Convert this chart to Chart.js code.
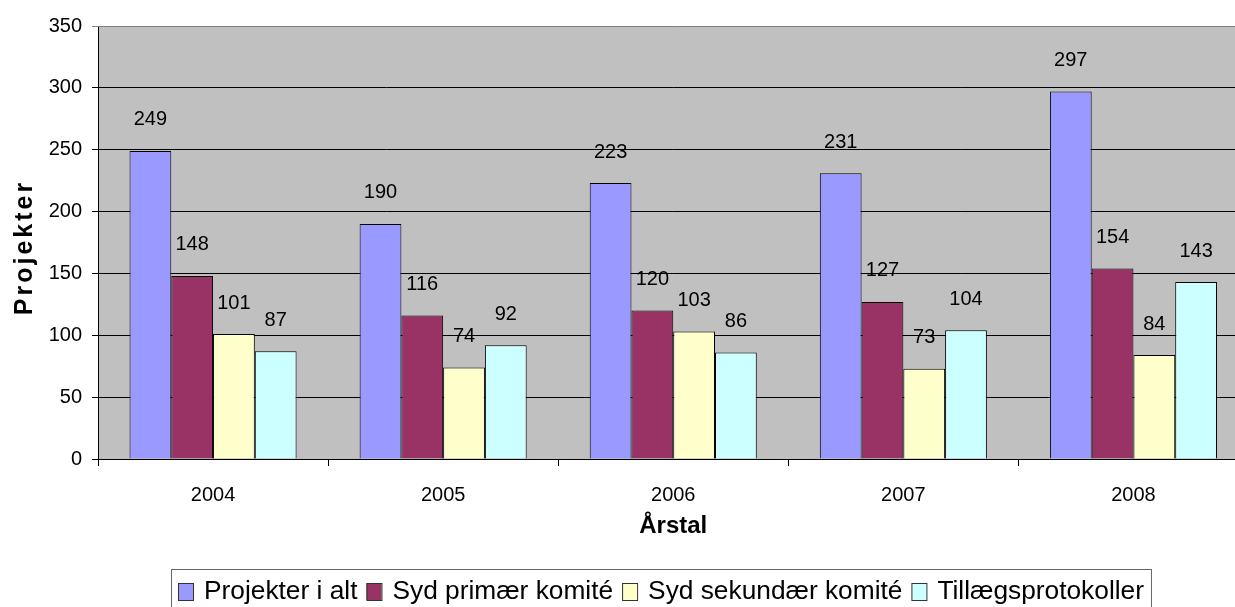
<!DOCTYPE html>
<html>
<head>
<meta charset="utf-8">
<script src="https://cdn.jsdelivr.net/npm/chart.js@4/dist/chart.umd.min.js"></script>
<style>
  html, body { margin: 0; padding: 0; background: #fff; overflow: hidden; }
  #wrap { position: absolute; left: 0; top: 0; width: 1250px; height: 620px; }
</style>
</head>
<body>
<div id="wrap"><canvas id="c" width="1250" height="620"></canvas></div>
<script>
// Projects per year, by committee
const years = ['2004', '2005', '2006', '2007', '2008'];
const projekterIAlt = [249, 190, 223, 231, 297];
const sydPrimaer = [148, 116, 120, 127, 154];
const sydSekundaer = [101, 74, 103, 73, 84];
const tillaegsprotokoller = [87, 92, 86, 104, 143];
const seriesNames = ['Projekter i alt', 'Syd primær komité', 'Syd sekundær komité', 'Tillægsprotokoller'];
const seriesColors = ['#9999FF', '#993366', '#FFFFCC', '#CCFFFF'];
const yMin = 0, yMax = 350, yStep = 50;
const xTitle = 'Årstal';
const yTitle = 'Projekter';

const FONT = '"Liberation Sans", Arial, Helvetica, sans-serif';

const plotDecor = {
  id: 'plotDecor',
  beforeDraw(chart) {
    const { ctx, chartArea: a } = chart;
    ctx.save();
    ctx.fillStyle = '#C0C0C0';
    ctx.fillRect(a.left, a.top, a.right - a.left, a.bottom - a.top);
    ctx.restore();
  },
  beforeDatasetsDraw(chart) {
    const { ctx, chartArea: a } = chart;
    ctx.save();
    ctx.strokeStyle = '#808080';
    ctx.lineWidth = 1;
    ctx.beginPath();
    ctx.moveTo(a.left, Math.round(a.top) + 0.5);
    ctx.lineTo(a.right, Math.round(a.top) + 0.5);
    ctx.lineTo(a.right - 0.5, a.bottom);
    ctx.stroke();
    ctx.restore();
  },
  afterDatasetsDraw(chart) {
    const { ctx } = chart;
    ctx.save();
    ctx.fillStyle = '#000';
    ctx.font = '20px ' + FONT;
    ctx.textAlign = 'center';
    ctx.textBaseline = 'middle';
    chart.data.datasets.forEach((ds, i) => {
      const meta = chart.getDatasetMeta(i);
      meta.data.forEach((bar, j) => {
        ctx.fillText(String(ds.data[j]), bar.x, bar.y - 31);
      });
    });
    ctx.restore();
  },
  afterDraw(chart) {
    const { ctx, chartArea: a } = chart;
    ctx.save();
    ctx.fillStyle = '#000';
    // axis titles
    ctx.font = 'bold 24px ' + FONT;
    ctx.textAlign = 'center';
    ctx.textBaseline = 'middle';
    ctx.fillText(xTitle, (a.left + a.right) / 2, 526);
    ctx.save();
    ctx.translate(25, 249);
    ctx.rotate(-Math.PI / 2);
    ctx.font = 'bold 25px ' + FONT;
    ctx.letterSpacing = '3px';
    ctx.fillText(yTitle, 1.5, 0);
    ctx.restore();

    // legend
    const lx = 171, ly = 569, lh = 50;
    ctx.font = '26.3px ' + FONT;
    ctx.textAlign = 'left';
    ctx.textBaseline = 'middle';
    let x = 178;
    const cy = 591;
    const sw = 15;
    const items = chart.data.datasets.map(d => ({ label: d.label, color: d.backgroundColor }));
    const parts = [];
    items.forEach(it => {
      parts.push({ it, sx: x, tx: x + sw + 11 });
      x += sw + 11 + ctx.measureText(it.label).width + 9;
    });
    const rightEdge = x - 9 + 7;
    ctx.strokeStyle = '#666';
    ctx.lineWidth = 1;
    ctx.strokeRect(lx + 0.5, ly + 0.5, rightEdge - lx, lh);
    parts.forEach(p => {
      ctx.fillStyle = p.it.color;
      ctx.fillRect(p.sx, cy - 8, sw, 17);
      ctx.strokeStyle = '#333';
      ctx.strokeRect(p.sx + 0.5, cy - 8 + 0.5, sw, 17);
      ctx.fillStyle = '#000';
      ctx.fillText(p.it.label, p.tx, cy + 1);
    });
    ctx.restore();
  }
};

const seriesData = [projekterIAlt, sydPrimaer, sydSekundaer, tillaegsprotokoller];

new Chart(document.getElementById('c'), {
  type: 'bar',
  data: {
    labels: years,
    datasets: seriesData.map((d, i) => ({
      label: seriesNames[i],
      data: d,
      backgroundColor: seriesColors[i],
      borderColor: '#000',
      borderWidth: 1,
      categoryPercentage: 0.726,
      barPercentage: 1.0
    }))
  },
  options: {
    responsive: false,
    animation: false,
    events: [],
    layout: { padding: { left: 0, top: 26, right: 1.5, bottom: 71 } },
    plugins: {
      legend: { display: false },
      tooltip: { enabled: false },
      title: { display: false }
    },
    scales: {
      x: {
        grid: {
          display: true,
          drawOnChartArea: false,
          drawTicks: true,
          tickLength: 7,
          color: '#000',
          offset: true
        },
        border: { display: true, color: '#000', width: 1 },
        ticks: {
          color: '#000',
          font: { family: FONT, size: 20 },
          padding: 17,
          maxRotation: 0
        },
        afterFit(scale) { scale.height = 90; }
      },
      y: {
        min: yMin,
        max: yMax,
        grid: {
          color: (c) => (c.tick && c.tick.value === yMax ? '#808080' : '#000'),
          tickLength: 6,
          drawTicks: true
        },
        border: { display: true, color: '#000', width: 1 },
        ticks: {
          stepSize: yStep,
          color: '#000',
          font: { family: FONT, size: 20 },
          padding: 10
        },
        afterFit(scale) { scale.width = 98; }
      }
    }
  },
  plugins: [plotDecor]
});
</script>
</body>
</html>
